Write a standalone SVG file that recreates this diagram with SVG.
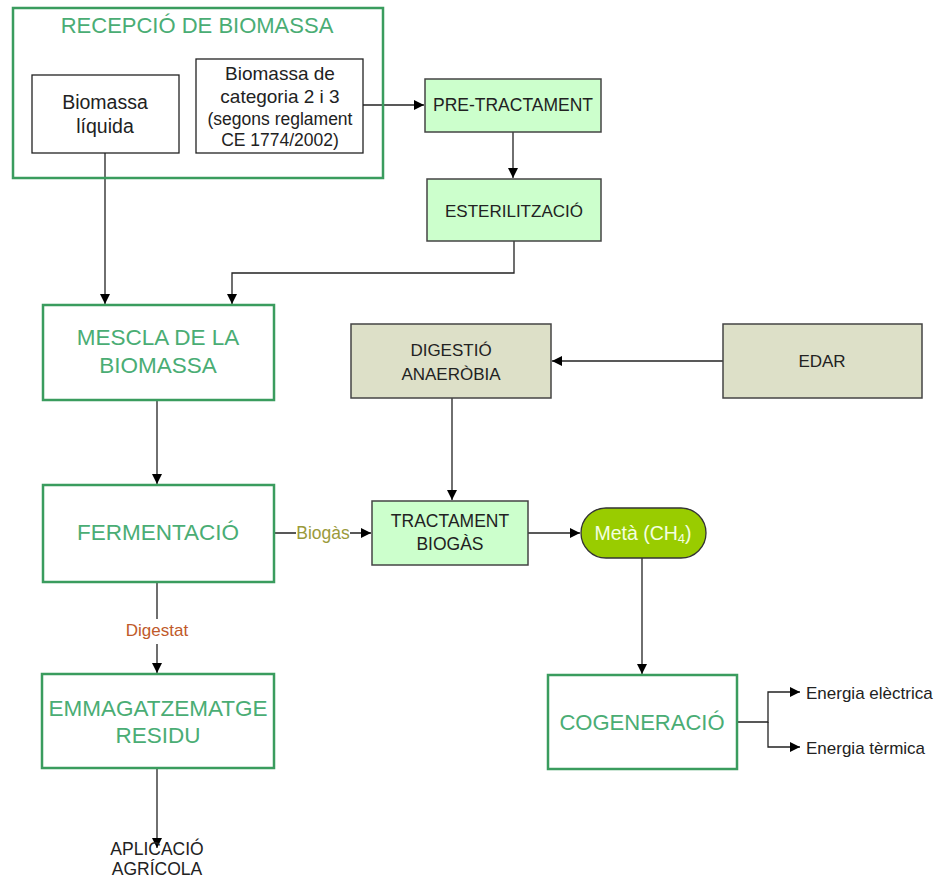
<svg xmlns="http://www.w3.org/2000/svg" width="937" height="878" viewBox="0 0 937 878">
<style>
text{font-family:"Liberation Sans",Arial,sans-serif;text-anchor:middle}
.g{fill:none;stroke:#3a9c5e;stroke-width:2.5}
.gt{fill:#4aad74;font-size:22.5px}
.b{fill:#fff;stroke:#222;stroke-width:1.3}
.lg{fill:#ccffcc;stroke:#444;stroke-width:1.5}
.gr{fill:#dde0c8;stroke:#444;stroke-width:1.5}
.t{fill:#222}
.c{fill:none;stroke:#222;stroke-width:1.3}
</style>
<defs>
<marker id="a" viewBox="0 0 10 10" refX="10" refY="5" markerWidth="10" markerHeight="10" markerUnits="userSpaceOnUse" orient="auto">
<path d="M0,0 L10,5 L0,10 z" fill="#000"/>
</marker>
</defs>
<rect width="937" height="878" fill="#fff"/>
<g id="connectors">
<path class="c" d="M363,105 H424" marker-end="url(#a)"/>
<path class="c" d="M513,132 V178" marker-end="url(#a)"/>
<path class="c" d="M514,241 V273 H232 V304" marker-end="url(#a)"/>
<path class="c" d="M105,153 V304" marker-end="url(#a)"/>
<path class="c" d="M157,400 V484" marker-end="url(#a)"/>
<path class="c" d="M274,533 H296 M350,533 H371" marker-end="url(#a)"/>
<text x="323" y="539" style="fill:#9a9a3a;font-size:17.5px">Biogàs</text>
<path class="c" d="M157,582 V619 M157,644 V673" marker-end="url(#a)"/>
<text x="157" y="636" style="fill:#c05a2a;font-size:17px">Digestat</text>
<path class="c" d="M157,768 V848" marker-end="url(#a)"/>
<path class="c" d="M723,361 H552" marker-end="url(#a)"/>
<path class="c" d="M452,398 V500" marker-end="url(#a)"/>
<path class="c" d="M528,533 H580" marker-end="url(#a)"/>
<path class="c" d="M642,558 V674" marker-end="url(#a)"/>
<path class="c" d="M737,722 H768 V692 H800" marker-end="url(#a)"/>
<path class="c" d="M768,722 V747 H800" marker-end="url(#a)"/>
</g>
<g id="recepcio">
<rect class="g" x="13" y="8" width="370" height="170"/>
<text class="gt" x="197" y="33" style="font-size:22px">RECEPCIÓ DE BIOMASSA</text>
</g>
<g id="biomassa-liquida">
<rect class="b" x="32" y="75" width="147" height="78"/>
<text class="t" x="105" y="109" font-size="19.5">Biomassa</text>
<text class="t" x="105" y="133" font-size="19.5">líquida</text>
</g>
<g id="biomassa-categoria">
<rect class="b" x="196" y="59" width="167" height="94"/>
<text class="t" x="280" y="80" font-size="19">Biomassa de</text>
<text class="t" x="280" y="103" font-size="19">categoria 2 i 3</text>
<text class="t" x="280" y="125" font-size="17.5">(segons reglament</text>
<text class="t" x="280" y="146" font-size="17.5">CE 1774/2002)</text>
</g>
<g id="pretractament">
<rect class="lg" x="425" y="79" width="176" height="53"/>
<text class="t" x="513" y="111" font-size="17.5">PRE-TRACTAMENT</text>
</g>
<g id="esterilitzacio">
<rect class="lg" x="427" y="179" width="174" height="62"/>
<text class="t" x="514" y="217" font-size="17">ESTERILITZACIÓ</text>
</g>
<g id="mescla">
<rect class="g" x="43" y="305" width="231" height="95"/>
<text class="gt" x="158" y="345">MESCLA DE LA</text>
<text class="gt" x="158" y="373">BIOMASSA</text>
</g>
<g id="fermentacio">
<rect class="g" x="43" y="485" width="231" height="97"/>
<text class="gt" x="158" y="540">FERMENTACIÓ</text>
</g>
<g id="emmagatzematge">
<rect class="g" x="42" y="674" width="232" height="94"/>
<text class="gt" x="158" y="716">EMMAGATZEMATGE</text>
<text class="gt" x="158" y="743">RESIDU</text>
</g>
<g id="aplicacio">
<text class="t" x="157" y="855" font-size="17.5">APLICACIÓ</text>
<text class="t" x="157" y="875" font-size="17.5">AGRÍCOLA</text>
</g>
<g id="digestio">
<rect class="gr" x="351" y="324" width="200" height="74"/>
<text class="t" x="451" y="356" font-size="17">DIGESTIÓ</text>
<text class="t" x="451" y="380" font-size="17">ANAERÒBIA</text>
</g>
<g id="edar">
<rect class="gr" x="723" y="324" width="199" height="74"/>
<text class="t" x="822" y="367" font-size="17">EDAR</text>
</g>
<g id="tractament-biogas">
<rect class="lg" x="372" y="501" width="156" height="64"/>
<text class="t" x="450" y="527" font-size="17.5">TRACTAMENT</text>
<text class="t" x="450" y="550" font-size="17.5">BIOGÀS</text>
</g>
<g id="meta">
<rect x="581" y="508" width="125" height="50" rx="25" fill="#99cc00" stroke="#333" stroke-width="1.3"/>
<text x="643" y="540" font-size="19.5" fill="#f4ffe0">Metà (CH<tspan font-size="13" dy="3">4</tspan><tspan dy="-3">)</tspan></text>
</g>
<g id="cogeneracio">
<rect class="g" x="548" y="675" width="189" height="94"/>
<text class="gt" x="642" y="730" style="font-size:22px">COGENERACIÓ</text>
</g>
<g id="energia">
<text class="t" x="806" y="699" font-size="17" style="text-anchor:start">Energia elèctrica</text>
<text class="t" x="806" y="754" font-size="17" style="text-anchor:start">Energia tèrmica</text>
</g>
</svg>
